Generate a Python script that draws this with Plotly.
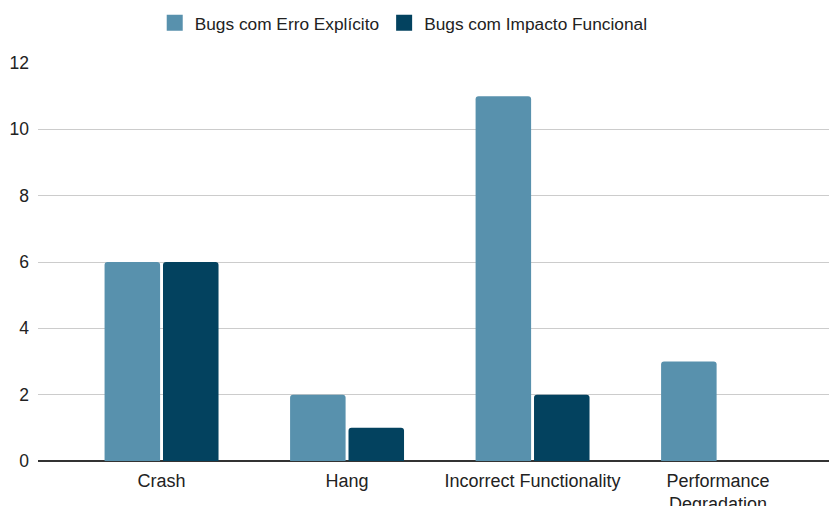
import plotly.graph_objects as go

categories = ["Crash", "Hang", "Incorrect Functionality", "Performance<br>Degradation"]
erro_explicito = [6, 2, 11, 3]
impacto_funcional = [6, 1, 2, 0]
series_names = ["Bugs com Erro Explícito", "Bugs com Impacto Funcional"]
series_colors = ["#5891ad", "#03425f"]
y_ticks = [0, 2, 4, 6, 8, 10, 12]

fig = go.Figure()
for name, vals, col in zip(series_names, [erro_explicito, impacto_funcional], series_colors):
    fig.add_trace(go.Bar(x=categories, y=vals, name=name, showlegend=False,
                         marker=dict(color=col, line=dict(width=0))))
# legend entries with larger square swatches
for name, col in zip(series_names, series_colors):
    fig.add_trace(go.Scatter(x=[None], y=[None], mode="markers", name=name,
                             marker=dict(symbol="square", size=16, color=col),
                             hoverinfo="skip"))

fig.update_layout(
    width=829, height=506,
    margin=dict(l=38, r=0, t=63, b=45, autoexpand=False),
    paper_bgcolor="white", plot_bgcolor="white",
    font=dict(family="Liberation Sans, Arial, sans-serif", size=17, color="#222"),
    barmode="group", bargap=0.37, bargroupgap=0.05,
    barcornerradius=3,
    legend=dict(orientation="h", x=0.487, xanchor="center", y=0.99, yanchor="top",
                xref="container", yref="container", font=dict(size=17.3, color="#222"),
                itemwidth=30, traceorder="normal", itemsizing="trace"),
    showlegend=True,
)
fig.update_xaxes(range=[-0.666, 3.598], showgrid=False, showline=False, ticks="",
                 tickfont=dict(size=18, color="#222"), zeroline=False,
                 ticklabelstandoff=7, automargin=False)
fig.update_yaxes(range=[0, 12], tickvals=y_ticks, showgrid=True, gridcolor="#cccccc",
                 gridwidth=1, zeroline=True, zerolinecolor="#333333", zerolinewidth=1.5,
                 showline=False, ticks="", tickfont=dict(size=17.5, color="#222"),
                 ticklabelstandoff=8, automargin=False)
fig.write_html("out.html")
